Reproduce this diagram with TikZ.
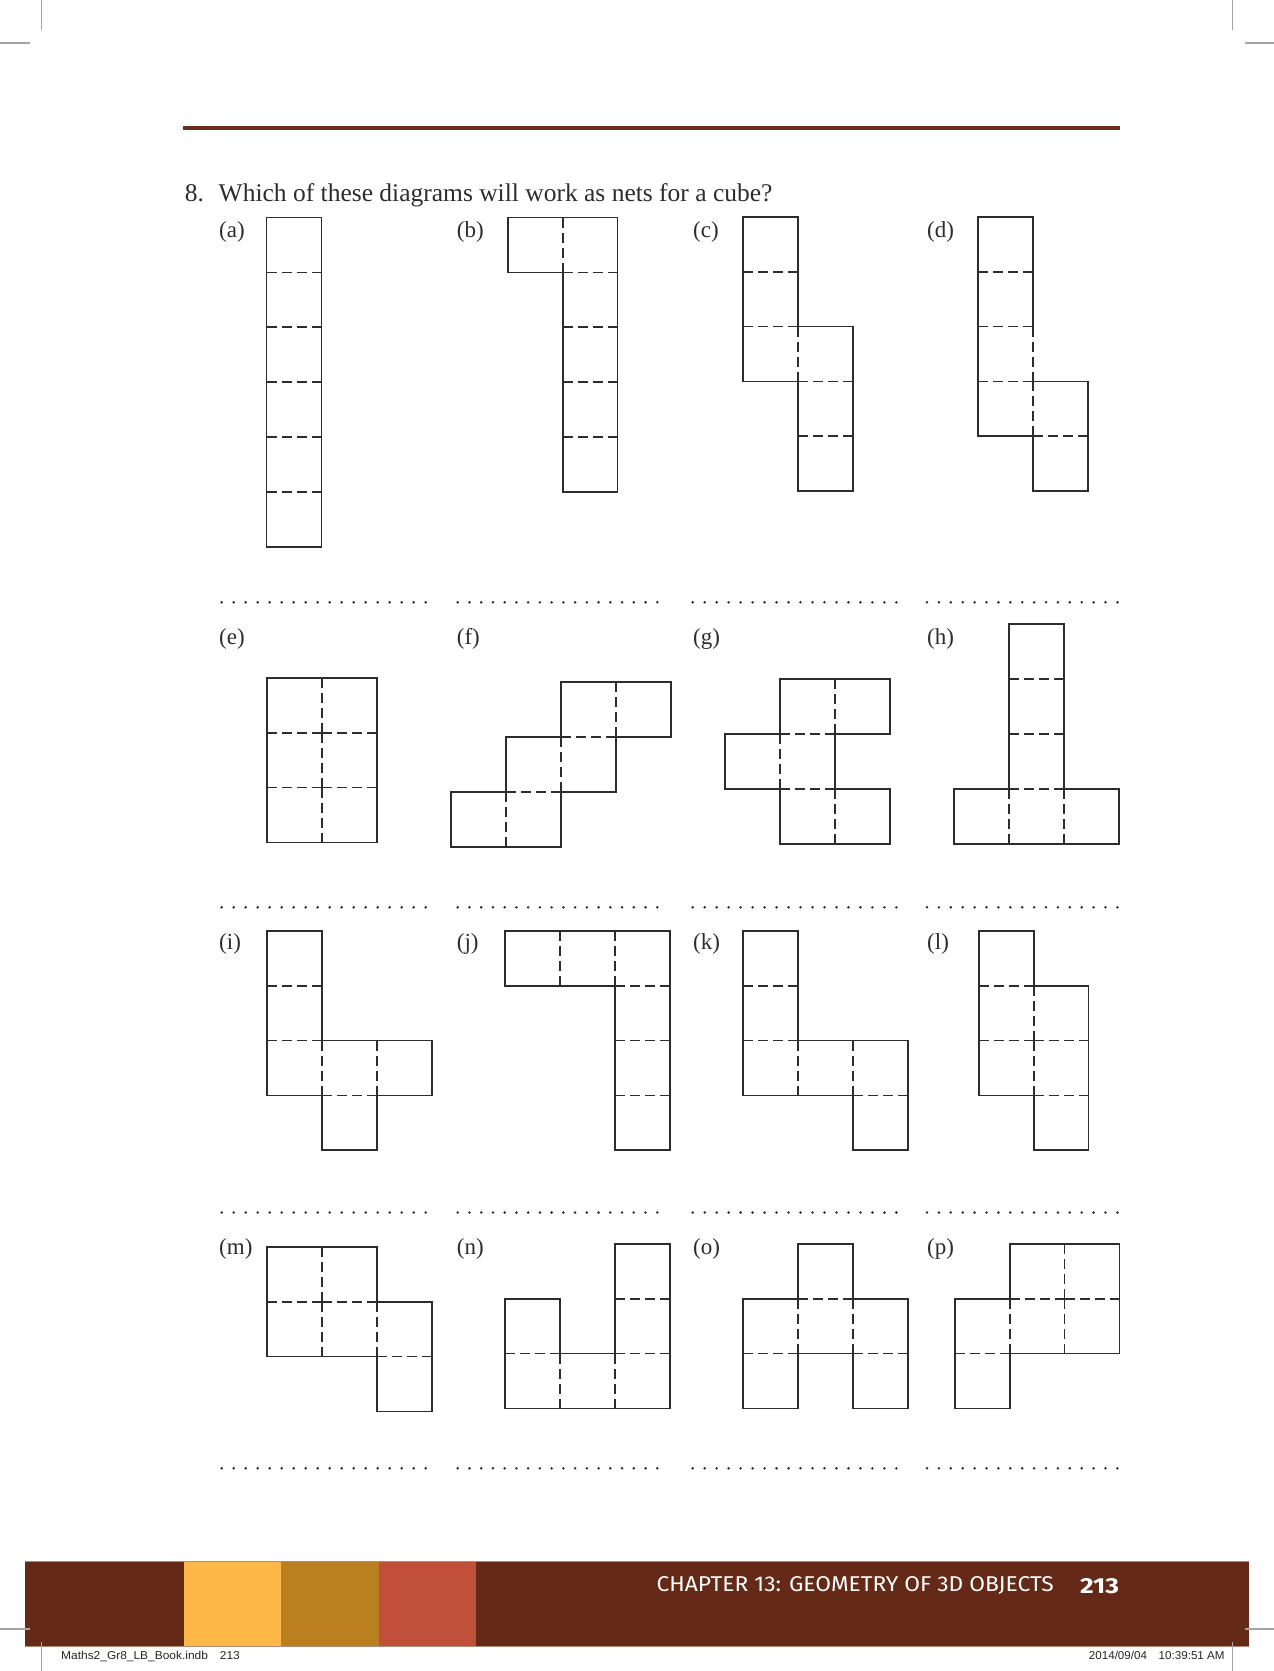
\documentclass[tikz,border=0pt]{standalone}
\usepackage{fontspec}
\usepackage{graphicx}
\usepackage{tikz}
\usetikzlibrary{positioning}
\setmainfont{Liberation Serif}
\setsansfont{Fira Sans}
\newfontfamily\slugfont{Liberation Sans}

\definecolor{bookbrown}{RGB}{101,42,23}
\definecolor{rulebrown}{RGB}{107,45,24}
\definecolor{tabyellow}{RGB}{253,184,72}
\definecolor{tabochre}{RGB}{186,127,30}
\definecolor{tabred}{RGB}{193,80,58}
\definecolor{bartan}{RGB}{176,140,120}
\definecolor{inkgray}{RGB}{45,45,45}
\definecolor{markgray}{RGB}{165,165,165}

% one net: origin (px from top left), outline, fold lines
\newcommand{\cubenet}[4]{%
  \begin{scope}[shift={(#1pt,-#2pt)}, x=54.9pt, y=-54.9pt]
    \draw[fold] #4;
    \draw[edge] #3;
  \end{scope}}
% dotted answer line: start x, y, last dot index, spacing
\newcommand{\answerdots}[4]{%
  \foreach \k in {0,...,#3} \fill[inkgray] (#1+\k*#4,#2) circle (1.4pt);}

\begin{document}
\begin{tikzpicture}[x=1pt, y=-1pt, line join=miter]
\tikzstyle{edge}=[draw=inkgray, line width=1.8pt, line cap=rect]
\tikzstyle{fold}=[draw=inkgray, line width=1.8pt, dash pattern=on 10pt off 5pt]
\tikzstyle{tag}=[inner sep=0pt, anchor=base west, text=inkgray, font=\fontsize{23}{26}\selectfont]
\tikzstyle{qtext}=[inner sep=0pt, anchor=base west, text=inkgray, font=\fontsize{25.5}{30}\selectfont]
\tikzstyle{slug}=[inner sep=0pt, anchor=base west, text=black!85]

\fill[white] (0,0) rectangle (1274,1671);
\useasboundingbox (0,0) rectangle (1274,1671);

% crop marks
\draw[markgray, line width=1pt] (41,0) -- (41,30) (1232.5,0) -- (1232.5,30);
\draw[markgray, line width=2pt] (0,42.7) -- (30,42.7) (1244.7,42.7) -- (1274,42.7);

% header rule and question
\fill[rulebrown] (183,126) rectangle (1119.5,129.8);
\node[qtext] (qnum) at (184.7,201) {8.};
\node[qtext] (question) at (218.5,201) {Which of these diagrams will work as nets for a cube?};

% row 1
\node[tag] (la) at (219,237) {(a)};
\node[tag] (lb) at (456.7,237) {(b)};
\node[tag] (lc) at (693,237) {(c)};
\node[tag] (ld) at (927,237) {(d)};
\cubenet{266.5}{217.5}{(0,0) rectangle (1,6)}
  {(0,1) -- (1,1) (0,2) -- (1,2) (0,3) -- (1,3) (0,4) -- (1,4) (0,5) -- (1,5)}
\cubenet{507.7}{217.5}{(0,0) -- (2,0) -- (2,5) -- (1,5) -- (1,1) -- (0,1) -- cycle}
  {(1,0) -- (1,1) (1,1) -- (2,1) (1,2) -- (2,2) (1,3) -- (2,3) (1,4) -- (2,4)}
\cubenet{743.3}{216.7}{(0,0) -- (1,0) -- (1,2) -- (2,2) -- (2,5) -- (1,5) -- (1,3) -- (0,3) -- cycle}
  {(0,1) -- (1,1) (0,2) -- (1,2) (1,2) -- (1,3) (1,3) -- (2,3) (1,4) -- (2,4)}
\cubenet{978}{216.7}{(1,3) -- (2,3) -- (2,5) -- (1,5) -- (1,4) -- (0,4) -- (0,0) -- (1,0) -- (1,2)}
  {(0,1) -- (1,1) (0,2) -- (1,2) (0,3) -- (1,3) (1,2) -- (1,3) (1,3) -- (1,4) (1,4) -- (2,4)}

% row 2
\node[tag] (le) at (219,644) {(e)};
\node[tag] (lf) at (456.7,644) {(f)};
\node[tag] (lg) at (693,644) {(g)};
\node[tag] (lh) at (927,644) {(h)};
\cubenet{267}{677.7}{(0,0) rectangle (2,3)}
  {(1,0) -- (1,1) (1,1) -- (1,2) (1,2) -- (1,3) (0,1) -- (1,1) (1,1) -- (2,1) (0,2) -- (1,2) (1,2) -- (2,2)}
\cubenet{451.3}{682}{(2,0) -- (4,0) -- (4,1) -- (3,1) -- (3,2) -- (2,2) -- (2,3) -- (0,3) -- (0,2) -- (1,2) -- (1,1) -- (2,1) -- cycle}
  {(3,0) -- (3,1) (2,1) -- (3,1) (2,1) -- (2,2) (1,2) -- (2,2) (1,2) -- (1,3)}
\cubenet{725}{679}{(1,0) -- (3,0) -- (3,1) -- (2,1) -- (2,2) -- (3,2) -- (3,3) -- (1,3) -- (1,2) -- (0,2) -- (0,1) -- (1,1) -- cycle}
  {(2,0) -- (2,1) (1,1) -- (2,1) (1,1) -- (1,2) (1,2) -- (2,2) (2,2) -- (2,3)}
\cubenet{954.3}{624}{(1,0) -- (2,0) -- (2,3) -- (3,3) -- (3,4) -- (0,4) -- (0,3) -- (1,3) -- cycle}
  {(1,1) -- (2,1) (1,2) -- (2,2) (1,3) -- (2,3) (1,3) -- (1,4) (2,3) -- (2,4)}

% row 3
\node[tag] (li) at (219,949) {(i)};
\node[tag] (lj) at (456.7,949) {(j)};
\node[tag] (lk) at (693,949) {(k)};
\node[tag] (ll) at (927,949) {(l)};
\cubenet{267}{930.7}{(0,0) -- (1,0) -- (1,2) -- (3,2) -- (3,3) -- (2,3) -- (2,4) -- (1,4) -- (1,3) -- (0,3) -- cycle}
  {(0,1) -- (1,1) (0,2) -- (1,2) (1,2) -- (1,3) (2,2) -- (2,3) (1,3) -- (2,3)}
\cubenet{505.3}{930.7}{(0,0) -- (3,0) -- (3,4) -- (2,4) -- (2,1) -- (0,1) -- cycle}
  {(1,0) -- (1,1) (2,0) -- (2,1) (2,1) -- (3,1) (2,2) -- (3,2) (2,3) -- (3,3)}
\cubenet{743.3}{930.7}{(0,0) -- (1,0) -- (1,2) -- (3,2) -- (3,4) -- (2,4) -- (2,3) -- (0,3) -- cycle}
  {(0,1) -- (1,1) (0,2) -- (1,2) (1,2) -- (1,3) (2,2) -- (2,3) (2,3) -- (3,3)}
\cubenet{978.7}{930.7}{(0,0) -- (1,0) -- (1,1) -- (2,1) -- (2,4) -- (1,4) -- (1,3) -- (0,3) -- cycle}
  {(0,1) -- (1,1) (0,2) -- (1,2) (1,2) -- (2,2) (1,1) -- (1,2) (1,2) -- (1,3) (1,3) -- (2,3)}

% row 4
\node[tag] (lm) at (219,1254) {(m)};
\node[tag] (ln) at (456.7,1254) {(n)};
\node[tag] (lo) at (693,1254) {(o)};
\node[tag] (lp) at (927,1254) {(p)};
\cubenet{267}{1246.7}{(0,0) -- (2,0) -- (2,1) -- (3,1) -- (3,3) -- (2,3) -- (2,2) -- (0,2) -- cycle}
  {(1,0) -- (1,1) (1,1) -- (1,2) (0,1) -- (1,1) (1,1) -- (2,1) (2,1) -- (2,2) (2,2) -- (3,2)}
\cubenet{505.3}{1243.7}{(0,1) -- (1,1) -- (1,2) -- (2,2) -- (2,0) -- (3,0) -- (3,3) -- (0,3) -- cycle}
  {(0,2) -- (1,2) (1,2) -- (1,3) (2,2) -- (2,3) (2,1) -- (3,1) (2,2) -- (3,2)}
\cubenet{743.3}{1243.7}{(1,0) -- (2,0) -- (2,1) -- (3,1) -- (3,3) -- (2,3) -- (2,2) -- (1,2) -- (1,3) -- (0,3) -- (0,1) -- (1,1) -- cycle}
  {(1,1) -- (2,1) (1,1) -- (1,2) (2,1) -- (2,2) (0,2) -- (1,2) (2,2) -- (3,2)}
\cubenet{954.7}{1243.7}{(1,0) -- (3,0) -- (3,2) -- (1,2) -- (1,3) -- (0,3) -- (0,1) -- (1,1) -- cycle}
  {(2,0) -- (2,1) (2,1) -- (2,2) (1,1) -- (2,1) (2,1) -- (3,1) (1,1) -- (1,2) (0,2) -- (1,2)}

% answer lines under each row
\foreach \y in {602.3,907.3,1212.5,1468.3} {
  \answerdots{221.7}{\y}{17}{12}
  \answerdots{457.7}{\y}{17}{11.74}
  \answerdots{692.7}{\y}{17}{11.98}
  \answerdots{927}{\y}{16}{11.9}
}

% footer bar
\fill[bookbrown] (25.2,1561) rectangle (1249,1646);
\fill[tabyellow] (183.6,1561) rectangle (281.1,1646);
\fill[tabochre] (281.1,1561) rectangle (378.6,1646);
\fill[tabred] (378.6,1561) rectangle (476.1,1646);
\draw[bartan, line width=0.8pt] (25.2,1561) -- (1249,1561) (25.2,1646) -- (1249,1646);
\node[inner sep=0pt, anchor=base west, text=white] (chapter) at (656.5,1591.7)
  {\resizebox{397pt}{15pt}{\sffamily CHAPTER 13: GEOMETRY OF 3D OBJECTS}};
\node[inner sep=0pt, text=white, right=26pt of chapter] (pagenum)
  {\resizebox{39pt}{15pt}{\sffamily\bfseries 213}};

% crop marks and slug
\draw[markgray, line width=2pt] (0,1629) -- (30,1629) (1244.7,1629) -- (1274,1629);
\draw[markgray, line width=1pt] (41,1641.5) -- (41,1671) (1232.5,1641.5) -- (1232.5,1671);
\node[slug] (slugfile) at (61,1659.3)
  {\resizebox{178.7pt}{8.3pt}{\slugfont Maths2\_Gr8\_LB\_Book.indb\quad 213}};
\node[slug] (slugdate) at (1088.7,1659.3)
  {\resizebox{135.7pt}{8.3pt}{\slugfont 2014/09/04\quad 10:39:51 AM}};
\end{tikzpicture}
\end{document}
